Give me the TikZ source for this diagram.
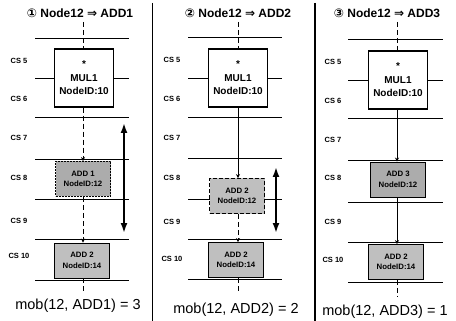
\documentclass[tikz,border=0pt]{standalone}
\usepackage{fontspec}
\setmainfont{Liberation Sans}
\newfontfamily\symfont{DejaVu Sans}
\usetikzlibrary{arrows.meta}

\begin{document}
\begin{tikzpicture}[
  x=1pt, y=-1pt,
  title/.style={font=\bfseries\fontsize{12}{14}\selectfont},
  mobtext/.style={font=\fontsize{14.5}{16}\selectfont},
  cslabel/.style={font=\bfseries\fontsize{7.5}{9}\selectfont},
  gridline/.style={line width=0.9pt},
  divider/.style={line width=1.8pt},
  mulbox/.style={draw, line width=1.1pt, fill=white, align=center, inner sep=0pt,
    minimum width=59pt, minimum height=58pt, font=\bfseries\fontsize{10}{13.5}\selectfont},
  addbox/.style={draw, line width=0.9pt, fill=gray!50, align=center, inner sep=0pt,
    minimum width=55pt, minimum height=35pt, font=\bfseries\fontsize{7.8}{10.5}\selectfont},
  movbox/.style={addbox, fill=gray!65},
  flow/.style={line width=0.9pt, -{Stealth[length=4pt,width=4pt]}},
  guess/.style={flow, dash pattern=on 5pt off 3pt},
  moverange/.style={line width=1.8pt, {Latex[length=10pt,width=7pt]}-{Latex[length=10pt,width=7pt]}}
]
  \useasboundingbox (0,0) rectangle (456,321);

  % panel dividers
  \draw[divider] (152.5,3) -- (152.5,321);
  \draw[divider] (315,3) -- (315,321);

  % (1) Node12 -> ADD1
  \node[title] (t1) at (80,13) {{\symfont ①}~Node12 {\symfont ⇒} ADD1};
  \draw[gridline] (35,38) -- (129,38)  (35,78) -- (129,78)  (35,117) -- (129,117)
    (35,159) -- (129,159)  (35,199) -- (129,199)  (35,239) -- (129,239)  (35,280) -- (129,280);
  \node[cslabel] (a5) at (19,61) {CS 5};
  \node[cslabel] (a6) at (19,99) {CS 6};
  \node[cslabel] (a7) at (19,138) {CS 7};
  \node[cslabel] (a8) at (19,178) {CS 8};
  \node[cslabel] (a9) at (19,221) {CS 9};
  \node[cslabel] (a10) at (19,256) {CS 10};
  \node[mulbox] (mul1) at (84,78) {*\\MUL1\\NodeID:10};
  \node[movbox, dash pattern=on 2pt off 1pt] (add1) at (83,179) {ADD 1\\NodeID:12};
  \node[addbox] (add1b) at (82,260.5) {ADD 2\\NodeID:14};
  \coordinate (in1) at (83,22);
  \coordinate (out1) at (83,292);
  \draw[gridline, dash pattern=on 5pt off 3pt] (in1) -- (in1 |- mul1.north);
  \draw[guess] (mul1.south -| in1) -- (add1.north -| in1);
  \draw[guess] (add1.south -| in1) -- (add1b.north -| in1);
  \draw[gridline, dash pattern=on 5pt off 3pt] (add1b.south -| in1) -- (out1);
  \coordinate (r1a) at (124,123);
  \coordinate (r1b) at (124,233);
  \draw[moverange] (r1a) -- (r1b);
  \node[mobtext] (m1) at (78,306) {mob(12, ADD1) = 3};

  % (2) Node12 -> ADD2
  \node[title] (t2) at (238,13) {{\symfont ②}~Node12 {\symfont ⇒} ADD2};
  \draw[gridline] (188,37) -- (282,37)  (188,78) -- (282,78)  (188,117) -- (282,117)
    (188,158) -- (282,158)  (188,199) -- (282,199)  (188,239) -- (282,239)  (188,279) -- (282,279);
  \node[cslabel] (b5) at (172,60) {CS 5};
  \node[cslabel] (b6) at (172,99) {CS 6};
  \node[cslabel] (b7) at (172,138) {CS 7};
  \node[cslabel] (b8) at (172,178) {CS 8};
  \node[cslabel] (b9) at (172,222) {CS 9};
  \node[cslabel] (b10) at (172,259) {CS 10};
  \node[mulbox] (mul2) at (238,78) {*\\MUL1\\NodeID:10};
  \node[addbox, dash pattern=on 4pt off 2pt] (add2) at (237,196) {ADD 2\\NodeID:12};
  \node[addbox] (add2b) at (236,260) {ADD 2\\NodeID:14};
  \coordinate (in2) at (238,22);
  \coordinate (out2) at (238,292);
  \draw[gridline, dash pattern=on 5pt off 3pt] (in2) -- (in2 |- mul2.north);
  \draw[flow] (mul2.south -| in2) -- (add2.north -| in2);
  \draw[guess] (add2.south -| in2) -- (add2b.north -| in2);
  \draw[gridline, dash pattern=on 5pt off 3pt] (add2b.south -| in2) -- (out2);
  \coordinate (r2a) at (276,167);
  \coordinate (r2b) at (276,233);
  \draw[moverange] (r2a) -- (r2b);
  \node[mobtext] (m2) at (236,310) {mob(12, ADD2) = 2};

  % (3) Node12 -> ADD3
  \node[title] (t3) at (387,13) {{\symfont ③}~Node12 {\symfont ⇒} ADD3};
  \draw[gridline] (348,39) -- (443,39)  (348,80) -- (443,80)  (348,118) -- (443,118)
    (348,160) -- (443,160)  (348,202) -- (443,202)  (348,242) -- (443,242)  (348,282) -- (443,282);
  \node[cslabel] (c5) at (333,62) {CS 5};
  \node[cslabel] (c6) at (333,101) {CS 6};
  \node[cslabel] (c7) at (333,140) {CS 7};
  \node[cslabel] (c8) at (333,178) {CS 8};
  \node[cslabel] (c9) at (333,222) {CS 9};
  \node[cslabel] (c10) at (333,260) {CS 10};
  \node[mulbox] (mul3) at (398,80) {*\\MUL1\\NodeID:10};
  \node[movbox] (add3) at (398,179.5) {ADD 3\\NodeID:12};
  \node[addbox] (add3b) at (396,262) {ADD 2\\NodeID:14};
  \coordinate (in3) at (397,22);
  \coordinate (out3) at (397,297);
  \draw[gridline, dash pattern=on 5pt off 3pt] (in3) -- (in3 |- mul3.north);
  \draw[flow] (mul3.south -| in3) -- (add3.north -| in3);
  \draw[flow] (add3.south -| in3) -- (add3b.north -| in3);
  \draw[gridline, dash pattern=on 5pt off 3pt] (add3b.south -| in3) -- (out3);
  \node[mobtext] (m3) at (385,312) {mob(12, ADD3) = 1};
\end{tikzpicture}
\end{document}
